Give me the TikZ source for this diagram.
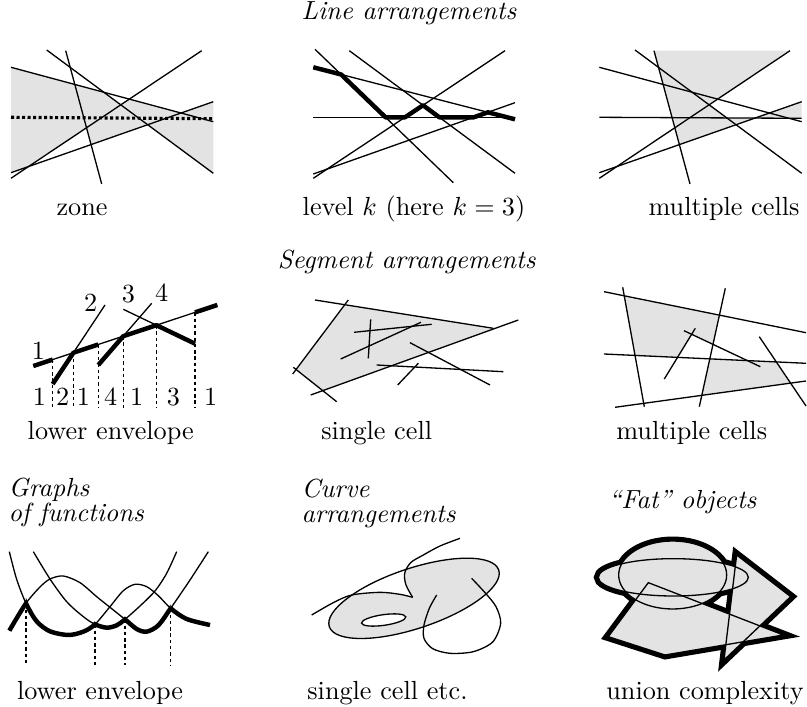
\documentclass[tikz,border=0pt]{standalone}
\begin{document}
\begin{tikzpicture}[x=0.3817pt,y=-0.3817pt,
  ln/.style={line width=0.5pt},
  thk/.style={line width=1.7pt, line join=round},
  dv/.style={line width=0.45pt, dash pattern=on 1.3pt off 1.1pt},
  zdot/.style={line width=1.2pt, dash pattern=on 1.2pt off 0.9pt},
  gr/.style={fill=black!11},
  lab/.style={anchor=base, inner sep=0pt},
  ttl/.style={anchor=base, inner sep=0pt, font=\itshape},
  ttlw/.style={anchor=north west, inner sep=0pt, font=\itshape, align=left}]
\useasboundingbox (0,0) rectangle (807,707);

% ---------- titles ----------
\node[ttl] (t1) at (409,20) {Line arrangements};
\node[ttl] (t2) at (406.7,269) {Segment arrangements};
\node[ttlw] (t3) at (8,478) {Graphs\\[-2.7pt]of functions};
\node[ttlw] (t4) at (301,479) {Curve\\[-2.7pt]arrangements};
\node[ttl, anchor=base west] (t5) at (608,509) {``Fat'' objects};

% ---------- panel 1: zone ----------
\coordinate (Aa) at (11,67.3);   \coordinate (Ab) at (213.3,121.7);
\coordinate (Ba) at (11,172.7);  \coordinate (Bb) at (213.3,101.7);
\coordinate (Ca) at (11,178.3);  \coordinate (Cb) at (201.7,50.7);
\coordinate (Da) at (46.7,50);   \coordinate (Db) at (213.3,173.3);
\coordinate (Ea) at (65.7,50.7); \coordinate (Eb) at (101.7,184);
\coordinate (AD) at (intersection of Aa--Ab and Da--Db);
\coordinate (DC) at (intersection of Da--Db and Ca--Cb);
\coordinate (CA) at (intersection of Ca--Cb and Aa--Ab);
\coordinate (AB) at (intersection of Aa--Ab and Ba--Bb);
\coordinate (DB) at (intersection of Da--Db and Ba--Bb);
\coordinate (BE) at (intersection of Ba--Bb and Ea--Eb);
\coordinate (EC) at (intersection of Ea--Eb and Ca--Cb);
\coordinate (CB) at (intersection of Ca--Cb and Ba--Bb);
\fill[gr] (Aa) -- (AD) -- (DC) -- (CA) -- (AB) -- (Bb) -- (Db) -- (DB) -- (BE) -- (EC) -- (CB) -- (Ba) -- cycle;
\draw[ln] (Aa) -- (Ab);
\draw[ln] (Ba) -- (Bb);
\draw[ln] (Ca) -- (Cb);
\draw[ln] (Da) -- (Db);
\draw[ln] (Ea) -- (Eb);
\coordinate (Za) at (11,117.3); \coordinate (Zb) at (213.3,118.7);
\draw[zdot] (Za) -- (Zb);
\node[lab] (l1) at (82,216) {zone};

% ---------- panel 2: level ----------
\coordinate (QAa) at (313.3,67.3);  \coordinate (QAb) at (515,119.3);
\coordinate (QHa) at (313.3,117.3); \coordinate (QHb) at (515,117.3);
\coordinate (QKa) at (315,49.3);    \coordinate (QKb) at (453.3,182.7);
\coordinate (QBa) at (349.3,50.7);  \coordinate (QBb) at (515,173.3);
\coordinate (QCa) at (313.3,178.3); \coordinate (QCb) at (505,50.7);
\coordinate (QDa) at (313.3,174);   \coordinate (QDb) at (515,102.7);
\draw[ln] (QAa) -- (QAb);
\draw[ln] (QHa) -- (QHb);
\draw[ln] (QKa) -- (QKb);
\draw[ln] (QBa) -- (QBb);
\draw[ln] (QCa) -- (QCb);
\draw[ln] (QDa) -- (QDb);
\draw[thk] (QAa) -- (intersection of QAa--QAb and QKa--QKb)
  -- (intersection of QKa--QKb and QHa--QHb)
  -- (intersection of QHa--QHb and QCa--QCb)
  -- (intersection of QCa--QCb and QBa--QBb)
  -- (intersection of QBa--QBb and QHa--QHb)
  -- (intersection of QHa--QHb and QDa--QDb)
  -- (intersection of QDa--QDb and QAa--QAb) -- (QAb);
\node[lab] (l2) at (414,216) {level $k$ (here $k=3$)};

% ---------- panel 3: multiple cells ----------
\coordinate (RAa) at (599.3,67.3);  \coordinate (RAb) at (801.7,121.7);
\coordinate (RBa) at (599.3,172.7); \coordinate (RBb) at (801.7,101.7);
\coordinate (RCa) at (599.3,178.3); \coordinate (RCb) at (790,50.7);
\coordinate (RDa) at (635,50);      \coordinate (RDb) at (801.7,173.3);
\coordinate (REa) at (654,50.7);    \coordinate (REb) at (690,184);
\coordinate (RHa) at (599.3,117.3); \coordinate (RHb) at (801.7,118.3);
\coordinate (RCD) at (intersection of RCa--RCb and RDa--RDb);
\coordinate (RDH) at (intersection of RDa--RDb and RHa--RHb);
\coordinate (RHB) at (intersection of RHa--RHb and RBa--RBb);
\coordinate (RBE) at (intersection of RBa--RBb and REa--REb);
\fill[gr] (REa) -- (RCb) -- (RCD) -- (RDH) -- (RHB) -- (RBb) -- (RHb) -- (RHB) -- (RBE) -- cycle;
\draw[ln] (RAa) -- (RAb);
\draw[ln] (RBa) -- (RBb);
\draw[ln] (RCa) -- (RCb);
\draw[ln] (RDa) -- (RDb);
\draw[ln] (REa) -- (REb);
\draw[ln] (RHa) -- (RHb);
\node[lab] (l3) at (724,216) {multiple cells};

% ---------- panel 4: lower envelope of segments ----------
\coordinate (S1a) at (33.3,366);  \coordinate (S1b) at (217.3,305);
\coordinate (S2a) at (52.7,384);  \coordinate (S2b) at (105,305);
\coordinate (S4a) at (98.3,365);  \coordinate (S4b) at (151.7,303.3);
\coordinate (S3a) at (123.3,309.3); \coordinate (S3b) at (195,343.7);
\coordinate (S12) at (intersection of S1a--S1b and S2a--S2b);
\coordinate (S14) at (intersection of S1a--S1b and S4a--S4b);
\coordinate (S13) at (intersection of S1a--S1b and S3a--S3b);
\coordinate (Sx1) at (52.7,359.6);
\coordinate (Sx2) at (98.3,344.5);
\coordinate (Sx3) at (195,312.4);
\coordinate (Sbot) at (0,408.3);
\draw[ln] (S1a) -- (S1b);
\draw[ln] (S2a) -- (S2b);
\draw[ln] (S4a) -- (S4b);
\draw[ln] (S3a) -- (S3b);
\draw[thk] (S1a) -- (Sx1);
\draw[thk] (S2a) -- (S12) -- (Sx2);
\draw[thk] (S4a) -- (S14) -- (S13) -- (S3b);
\draw[thk] (Sx3) -- (S1b);
\draw[dv] (Sx1) -- (Sx1 |- Sbot);
\draw[dv] (S12) -- (S12 |- Sbot);
\draw[dv] (Sx2) -- (Sx2 |- Sbot);
\draw[dv] (S14) -- (S14 |- Sbot);
\draw[dv] (S13) -- (S13 |- Sbot);
\draw[dv] (Sx3) -- (Sx3 |- Sbot);
\node[lab] (n1) at (38.3,360) {1};
\node[lab] (n2) at (90.7,311.7) {2};
\node[lab] (n3) at (128.3,303) {3};
\node[lab] (n4) at (161.7,301.7) {4};
\node[lab] (b1) at (39.3,406) {1};
\node[lab] (b2) at (62.7,406) {2};
\node[lab] (b3) at (83.3,406) {1};
\node[lab] (b4) at (110.7,406) {4};
\node[lab] (b5) at (136.7,406) {1};
\node[lab] (b6) at (173.3,406) {3};
\node[lab] (b7) at (210.7,406) {1};
\node[lab] (l4) at (110.7,440) {lower envelope};

% ---------- panel 5: single cell ----------
\coordinate (U1a) at (315,300);     \coordinate (U1b) at (493.3,328.3);
\coordinate (U2a) at (348.3,300);   \coordinate (U2b) at (292.7,374);
\coordinate (U3a) at (293.3,367.3); \coordinate (U3b) at (336.7,401.7);
\coordinate (U4a) at (310.7,395);   \coordinate (U4b) at (518.3,320);
\coordinate (U5a) at (354,332.3);   \coordinate (U5b) at (431.7,324.3);
\coordinate (U6a) at (370.7,319.3); \coordinate (U6b) at (368.3,358.3);
\coordinate (U7a) at (340.7,359);   \coordinate (U7b) at (421,322.3);
\coordinate (U8a) at (376.7,365);   \coordinate (U8b) at (503.3,371.7);
\coordinate (U9a) at (410,342.7);   \coordinate (U9b) at (490,385);
\coordinate (U0a) at (397.7,385);   \coordinate (U0b) at (418.3,363.3);
\fill[gr] (intersection of U2a--U2b and U1a--U1b) -- (intersection of U1a--U1b and U4a--U4b)
  -- (intersection of U4a--U4b and U3a--U3b) -- (intersection of U3a--U3b and U2a--U2b) -- cycle;
\draw[ln] (U1a) -- (U1b);
\draw[ln] (U2a) -- (U2b);
\draw[ln] (U3a) -- (U3b);
\draw[ln] (U4a) -- (U4b);
\draw[ln] (U5a) -- (U5b);
\draw[ln] (U6a) -- (U6b);
\draw[ln] (U7a) -- (U7b);
\draw[ln] (U8a) -- (U8b);
\draw[ln] (U9a) -- (U9b);
\draw[ln] (U0a) -- (U0b);
\node[lab] (l5) at (376.7,440) {single cell};

% ---------- panel 6: multiple cells (segments) ----------
\coordinate (V1a) at (604,291.7);   \coordinate (V1b) at (806,332.7);
\coordinate (V2a) at (604,354);     \coordinate (V2b) at (806,363.3);
\coordinate (V3a) at (615,407.3);   \coordinate (V3b) at (806,381);
\coordinate (V4a) at (622.7,287.3); \coordinate (V4b) at (644.3,406.7);
\coordinate (V5a) at (725.3,288.3); \coordinate (V5b) at (699.3,406.7);
\coordinate (V6a) at (684,330.7);   \coordinate (V6b) at (760.3,366.7);
\coordinate (V7a) at (695.3,328.3); \coordinate (V7b) at (664.3,379);
\coordinate (V8a) at (759.3,336.7); \coordinate (V8b) at (806,406);
\fill[gr] (intersection of V4a--V4b and V1a--V1b) -- (intersection of V1a--V1b and V5a--V5b)
  -- (intersection of V5a--V5b and V6a--V6b) -- (intersection of V6a--V6b and V7a--V7b)
  -- (intersection of V7a--V7b and V2a--V2b) -- (intersection of V2a--V2b and V4a--V4b) -- cycle;
\fill[gr] (intersection of V5a--V5b and V2a--V2b) -- (intersection of V2a--V2b and V8a--V8b)
  -- (intersection of V8a--V8b and V3a--V3b) -- (intersection of V3a--V3b and V5a--V5b) -- cycle;
\draw[ln] (V1a) -- (V1b);
\draw[ln] (V2a) -- (V2b);
\draw[ln] (V3a) -- (V3b);
\draw[ln] (V4a) -- (V4b);
\draw[ln] (V5a) -- (V5b);
\draw[ln] (V6a) -- (V6b);
\draw[ln] (V7a) -- (V7b);
\draw[ln] (V8a) -- (V8b);
\node[lab] (l6) at (691.7,440) {multiple cells};

% ---------- panel 7: graphs of functions ----------
\begin{scope}[shift={(0,460)}, scale=1/3]
\def\WfA{plot[smooth] coordinates {(28,275) (50,358) (78,430) (110,484) (150,514) (205,525) (250,515) (285,493) (330,440) (370,392) (405,373) (440,380) (475,407) (512,445) (560,477) (630,495)}}
\def\WfB{plot[smooth] coordinates {(28,512) (78,430) (120,381) (150,357) (190,348) (240,368) (290,410) (330,442) (375,478) (410,507) (440,515) (475,496) (512,445) (570,360) (625,275)}}
\def\WfC{plot[smooth] coordinates {(100,275) (150,357) (200,425) (250,470) (285,493) (320,503) (350,496) (375,478) (420,438) (465,393) (500,340) (530,275)}}
\draw[ln] \WfA;
\draw[ln] \WfB;
\draw[ln] \WfC;
\begin{scope} \clip (20,200) rectangle (78,600); \draw[thk] \WfB; \end{scope}
\begin{scope} \clip (78,200) rectangle (285,600); \draw[thk] \WfA; \end{scope}
\begin{scope} \clip (285,200) rectangle (375,600); \draw[thk] \WfC; \end{scope}
\begin{scope} \clip (375,200) rectangle (512,600); \draw[thk] \WfB; \end{scope}
\begin{scope} \clip (512,200) rectangle (640,600); \draw[thk] \WfA; \end{scope}
\coordinate (W1) at (78,430); \coordinate (W2) at (285,493);
\coordinate (W3) at (375,478); \coordinate (W4) at (512,445);
\coordinate (Wb) at (0,615);
\draw[dv] (W1) -- (W1 |- Wb);
\draw[dv] (W2) -- (W2 |- Wb);
\draw[dv] (W3) -- (W3 |- Wb);
\draw[dv] (W4) -- (W4 |- Wb);
\end{scope}
\node[lab] (l7) at (100,699) {lower envelope};

% ---------- panel 8: curve arrangements ----------
\begin{scope}[shift={(280,460)}, scale=1/3]
\coordinate (Xc) at (402,415);
\coordinate (Xh) at (311,480);
\fill[gr, rotate around={18.5:(Xc)}] (Xc) ellipse [x radius=268, y radius=90];
\begin{scope}
\clip[rotate around={18.5:(Xc)}] (Xc) ellipse [x radius=268, y radius=90];
\fill[white] plot[smooth] coordinates {(95,465) (160,428) (215,405) (300,397) (360,403) (398,412)}
  -- plot[smooth] coordinates {(398,412) (378,375) (374,340) (392,308) (430,285) (480,258) (540,235)}
  -- (540,150) -- (60,150) -- cycle;
\end{scope}
\fill[white, rotate around={8:(Xh)}] (Xh) ellipse [x radius=67, y radius=16];
\draw[ln, rotate around={18.5:(Xc)}] (Xc) ellipse [x radius=268, y radius=90];
\draw[ln, rotate around={8:(Xh)}] (Xh) ellipse [x radius=67, y radius=16];
\draw[ln] plot[smooth] coordinates {(95,465) (160,428) (215,405) (300,397) (360,403) (398,412)};
\draw[ln] plot[smooth] coordinates {(398,412) (378,375) (374,340) (392,308) (430,285) (480,258) (540,235)};
\draw[ln] plot[smooth] coordinates {(470,405) (448,445) (432,495) (432,535) (458,566) (510,580) (580,575) (638,546) (662,490) (648,440) (615,398) (575,355)};
\end{scope}
\node[lab] (l8) at (387.5,699) {single cell etc.};

% ---------- panel 9: fat objects ----------
\begin{scope}[shift={(580,460)}, scale=1/3]
\coordinate (Y1) at (280,352);
\coordinate (Y2) at (278,345);
\coordinate (Ta) at (470,285); \coordinate (Tb) at (632,410); \coordinate (Tc) at (432,600);
\coordinate (Pa) at (205,368); \coordinate (Pb) at (610,525); \coordinate (Pc) at (255,585); \coordinate (Pd) at (85,530);
\draw[line width=3.4pt] (Y1) ellipse [x radius=225, y radius=56];
\draw[line width=3.4pt] (Y2) ellipse [x radius=162, y radius=102];
\draw[line width=3.4pt] (Ta) -- (Tb) -- (Tc) -- cycle;
\draw[line width=3.4pt] (Pa) -- (Pb) -- (Pc) -- (Pd) -- cycle;
\fill[black!11] (Y1) ellipse [x radius=225, y radius=56];
\fill[black!11] (Y2) ellipse [x radius=162, y radius=102];
\fill[black!11] (Ta) -- (Tb) -- (Tc) -- cycle;
\fill[black!11] (Pa) -- (Pb) -- (Pc) -- (Pd) -- cycle;
\draw[ln] (Y1) ellipse [x radius=225, y radius=56];
\draw[ln] (Y2) ellipse [x radius=162, y radius=102];
\draw[ln] (Ta) -- (Tb) -- (Tc) -- cycle;
\draw[ln] (Pa) -- (Pb) -- (Pc) -- (Pd) -- cycle;
\end{scope}
\node[lab] (l9) at (705,699) {union complexity};
\end{tikzpicture}
\end{document}
